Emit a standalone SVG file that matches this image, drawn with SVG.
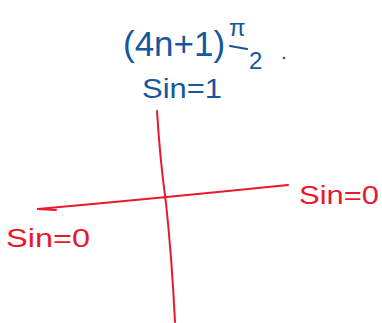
<svg xmlns="http://www.w3.org/2000/svg" width="382" height="323" viewBox="0 0 382 323">
<style>
.blue{fill:#15579a;font-family:"Liberation Sans",sans-serif;}
.red{fill:#e8192c;font-family:"Liberation Sans",sans-serif;}
.ax{fill:none;stroke:#e8192c;stroke-width:2;stroke-linecap:round;}
</style>
<rect width="382" height="323" fill="#ffffff"/>
<g id="formula">
<text class="blue" x="123" y="56" font-size="35">(4n+1)</text>
<text class="blue" x="229" y="36" font-size="24">π</text>
<line x1="230" y1="46" x2="247" y2="49" stroke="#15579a" stroke-width="2.2" stroke-linecap="round"/>
<text class="blue" x="249" y="69" font-size="24">2</text>
<circle cx="284" cy="58" r="1.3" fill="#15579a"/>
</g>
<g id="top-label">
<text class="blue" x="142" y="98" font-size="28" textLength="80" lengthAdjust="spacingAndGlyphs">Sin=1</text>
</g>
<g id="connectors">
<path class="ax" d="M157,111 Q160,160 166,203 Q172,260 175,322"/>
<path class="ax" d="M38,209 Q160,198 288,185"/>
<line class="ax" x1="38" y1="209" x2="56" y2="210"/>
</g>
<g id="right-label">
<text class="red" x="299" y="204" font-size="26" textLength="80" lengthAdjust="spacingAndGlyphs">Sin=0</text>
</g>
<g id="left-label">
<text class="red" x="6" y="247" font-size="26" textLength="84" lengthAdjust="spacingAndGlyphs">Sin=0</text>
</g>
</svg>
